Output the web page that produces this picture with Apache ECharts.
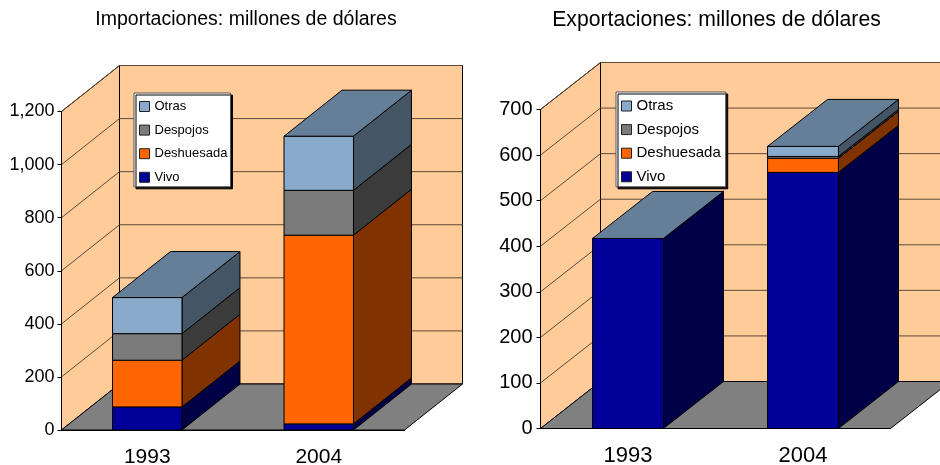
<!DOCTYPE html>
<html><head><meta charset="utf-8">
<style>html,body{margin:0;padding:0;background:#fff}#c{width:940px;height:465px}</style>
<script src="https://cdn.jsdelivr.net/npm/echarts@6/dist/echarts.min.js"></script>
</head><body><div id="c"></div>
<script>
const categories = ['1993', '2004'];
const legendNames = ['Otras', 'Despojos', 'Deshuesada', 'Vivo'];
const importTicks = [0, 200, 400, 600, 800, 1000, 1200];
const exportTicks = [0, 100, 200, 300, 400, 500, 600, 700];

const importVivo = [87, 23];
const importDeshuesada = [176, 711];
const importDespojos = [100, 169];
const importOtras = [136, 204];

const exportVivo = [417, 562];
const exportDeshuesada = [0, 31];
const exportDespojos = [0, 4];
const exportOtras = [0, 22];

const stackOrder = ['Vivo', 'Deshuesada', 'Despojos', 'Otras'];
const frontColor = {Vivo: '#000099', Deshuesada: '#ff6600', Despojos: '#7b7b7b', Otras: '#8aaacb'};
const sideColor = {Vivo: '#000047', Deshuesada: '#803300', Despojos: '#3b3b3b', Otras: '#445565'};
const capColor = '#667f99';
const FONT = '"Liberation Sans", Arial, sans-serif';
const LINE = '#000';
const GRIDLINE = '#5c4a38';

const charts = [
  {ticks: importTicks, max: 1200, depthX: 58, depthY: 46,
   rect: {left: 61.5, top: 111.5, width: 343, height: 318.5, outerBoundsMode: 'none'},
   series: {Vivo: importVivo, Deshuesada: importDeshuesada, Despojos: importDespojos, Otras: importOtras},
   title: 'Importaciones: millones de dólares', titleSize: 19.5, titleX: 241, axisSize: 18, axisMargin: 7, axisPad: 3, catSize: 21, catMargin: 17,
   legend: {left: 134, top: 93, fontSize: 13, itemGap: 10.6, padding: [7, 3, 3, 5]}},
  {ticks: exportTicks, max: 700, depthX: 60, depthY: 47,
   rect: {left: 540.5, top: 109.5, width: 350, height: 319, outerBoundsMode: 'none'},
   series: {Vivo: exportVivo, Deshuesada: exportDeshuesada, Despojos: exportDespojos, Otras: exportOtras},
   title: 'Exportaciones: millones de dólares', titleSize: 21.2, titleX: 711.5, axisSize: 20, axisMargin: 8, axisPad: 4, catSize: 22, catMargin: 16,
   legend: {left: 616, top: 92, fontSize: 15, itemGap: 8.6, padding: [6.5, 5, 2.5, 5]}}
];

const option = {
  animation: false,
  title: [], grid: [], xAxis: [], yAxis: [], legend: [], series: []
};

function frameRenderer(c) {
  return function (params, api) {
    const bw = api.size([1, 0])[0];
    const x0 = api.coord([0, 0])[0] - bw / 2;
    const x1 = x0 + bw * 2;
    const y0 = api.coord([0, 0])[1];
    const yt = api.coord([0, c.max])[1];
    const dx = c.depthX, dy = c.depthY;
    const s = {stroke: LINE, lineWidth: 1};
    return {type: 'group', children: [
      {type: 'polygon', shape: {points: [[x0 + dx, yt - dy], [x1 + dx, yt - dy], [x1 + dx, y0 - dy], [x0 + dx, y0 - dy]]},
       style: Object.assign({fill: '#ffcc99'}, s)},
      {type: 'polygon', shape: {points: [[x0, y0], [x0, yt], [x0 + dx, yt - dy], [x0 + dx, y0 - dy]]},
       style: Object.assign({fill: '#ffcc99'}, s)},
      {type: 'polygon', shape: {points: [[x0, y0], [x1, y0], [x1 + dx, y0 - dy], [x0 + dx, y0 - dy]]},
       style: Object.assign({fill: '#808080'}, s)}
    ]};
  };
}

function gridRenderer(c) {
  return function (params, api) {
    const bw = api.size([1, 0])[0];
    const x0 = api.coord([0, 0])[0] - bw / 2;
    const x1 = x0 + bw * 2;
    const y = api.coord([0, api.value(0)])[1];
    return {type: 'polyline',
      shape: {points: [[x0, y], [x0 + c.depthX, y - c.depthY], [x1 + c.depthX, y - c.depthY]]},
      style: {fill: null, stroke: GRIDLINE, lineWidth: 1}};
  };
}

function barRenderer(c, name) {
  return function (params, api) {
    const bw = api.size([1, 0])[0] * 0.405;
    const xc = api.coord([api.value(0), 0])[0];
    const xl = xc - bw / 2, xr = xc + bw / 2;
    const yb = api.coord([0, api.value(1)])[1];
    const ye = api.coord([0, api.value(2)])[1];
    const dx = c.depthX, dy = c.depthY;
    const children = [
      {type: 'polygon', shape: {points: [[xr, yb], [xr, ye], [xr + dx, ye - dy], [xr + dx, yb - dy]]},
       style: {fill: sideColor[name], stroke: LINE, lineWidth: 1}},
      {type: 'polygon', shape: {points: [[xl, yb], [xr, yb], [xr, ye], [xl, ye]]},
       style: {fill: frontColor[name], stroke: LINE, lineWidth: 1}}
    ];
    if (name === 'Otras') {
      children.push({type: 'polygon', shape: {points: [[xl, ye], [xr, ye], [xr + dx, ye - dy], [xl + dx, ye - dy]]},
        style: {fill: capColor, stroke: LINE, lineWidth: 1}});
    }
    return {type: 'group', children};
  };
}

charts.forEach(function (c, i) {
  option.title.push({text: c.title, left: c.titleX, top: 5, textAlign: 'center',
    textStyle: {fontFamily: FONT, fontSize: c.titleSize, fontWeight: 'normal', color: '#000'}});
  option.grid.push(Object.assign({}, c.rect));
  option.xAxis.push({type: 'category', gridIndex: i, data: categories, z: 6,
    axisLine: {lineStyle: {color: '#000', width: 1}},
    axisTick: {alignWithLabel: false, length: 5, lineStyle: {color: '#000'}},
    axisLabel: {fontFamily: FONT, fontSize: c.catSize, color: '#000', margin: c.catMargin}});
  option.yAxis.push({type: 'value', gridIndex: i, min: 0, max: c.max, interval: c.ticks[1] - c.ticks[0], z: 6,
    axisLine: {show: true, lineStyle: {color: '#000', width: 1}},
    axisTick: {show: true, length: 4, lineStyle: {color: '#000'}},
    splitLine: {show: false},
    axisLabel: {fontFamily: FONT, fontSize: c.axisSize, color: '#000', margin: c.axisMargin, padding: [c.axisPad, 0, 0, 0]}});
  option.legend.push({orient: 'vertical', left: c.legend.left, top: c.legend.top, z: 10,
    data: legendNames, icon: 'rect', itemWidth: 10, itemHeight: 10, itemGap: c.legend.itemGap,
    selectedMode: false, padding: c.legend.padding,
    backgroundColor: '#fff', borderColor: '#555', borderWidth: 1,
    shadowColor: '#000', shadowOffsetX: 2, shadowOffsetY: 2, shadowBlur: 0,
    itemStyle: {borderColor: '#222', borderWidth: 1},
    textStyle: {fontFamily: FONT, fontSize: c.legend.fontSize, color: '#000'}});

  option.series.push({type: 'custom', name: 'frame', xAxisIndex: i, yAxisIndex: i, z: 1, silent: true,
    clip: false, data: [[0, 0]], encode: {x: 0, y: 1}, renderItem: frameRenderer(c)});
  option.series.push({type: 'custom', name: 'gridlines', xAxisIndex: i, yAxisIndex: i, z: 2, silent: true,
    clip: false, data: c.ticks.slice(1).map(function (t) { return [t]; }), encode: {y: 0},
    renderItem: gridRenderer(c)});

  const totals = categories.map(function () { return 0; });
  stackOrder.forEach(function (name, k) {
    const vals = c.series[name];
    const rows = vals.map(function (v, ci) {
      const row = [ci, totals[ci], totals[ci] + v];
      totals[ci] += v;
      return row;
    });
    option.series.push({type: 'custom', name: name, xAxisIndex: i, yAxisIndex: i, z: 3 + k, clip: false,
      itemStyle: {color: frontColor[name]}, data: rows, encode: {x: 0, y: [1, 2]},
      renderItem: barRenderer(c, name)});
  });
});

const chart = echarts.init(document.getElementById('c'), null, {renderer: 'canvas', width: 940, height: 465});
chart.setOption(option);
</script></body></html>
